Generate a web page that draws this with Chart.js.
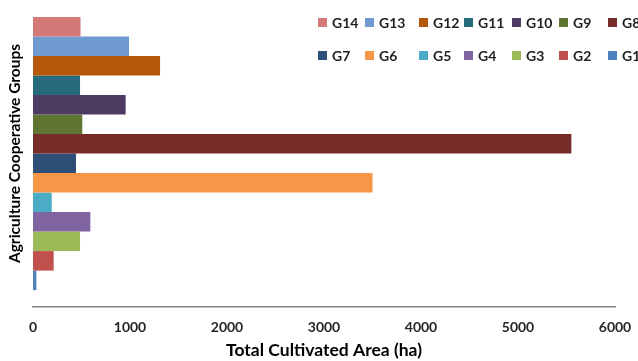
<!DOCTYPE html>
<html>
<head>
<meta charset="utf-8">
<title>Total Cultivated Area by Cooperative Group</title>
<script src="https://cdn.jsdelivr.net/npm/chart.js@4/dist/chart.umd.min.js"></script>
<style>
  html, body { margin: 0; padding: 0; background: #fff; overflow: hidden; }
  #wrap { position: relative; width: 638px; height: 361px; overflow: hidden; }
  #legend {
    position: absolute; left: 318px; top: 6px;
    display: grid;
    grid-template-columns: 47px 54px 45px 48px 47px 49px 60px;
    grid-auto-rows: 33px;
    font: bold 14px Lato, Carlito, Calibri, sans-serif;
    color: #1f1f1f;
    white-space: nowrap;
  }
  .item { display: flex; align-items: center; }
  .swatch { width: 9px; height: 9px; margin-right: 5px; flex: none; }
</style>
</head>
<body>
<div id="wrap">
  <canvas id="areaChart" width="638" height="361"></canvas>
  <div id="legend"></div>
</div>
<script>
// groups listed top to bottom, as they are stacked in the chart
const groups = ['G14', 'G13', 'G12', 'G11', 'G10', 'G9', 'G8', 'G7', 'G6', 'G5', 'G4', 'G3', 'G2', 'G1'];
const areas  = [490, 990, 1310, 485, 955, 508, 5550, 443, 3500, 193, 591, 485, 213, 35];
const colors = ['#D47878', '#6F9BD0', '#B55708', '#266B7B', '#4E3B62', '#5F7531', '#772C2A',
                '#2D4E76', '#F79646', '#4BACC6', '#8064A2', '#9BBB59', '#C0504D', '#4F81BD'];
const xTicks = [0, 1000, 2000, 3000, 4000, 5000, 6000];

Chart.defaults.font.family = 'Lato, Carlito, Calibri, sans-serif';

const datasets = groups.map((g, i) => ({
    label: g,
    data: [areas[i]],
    backgroundColor: colors[i],
    borderWidth: 0,
    barPercentage: 1,
    categoryPercentage: 0.89
}));

const chart = new Chart(document.getElementById('areaChart'), {
    type: 'bar',
    data: { labels: [''], datasets: datasets },
    options: {
        indexAxis: 'y',
        responsive: false,
        animation: false,
        devicePixelRatio: 1,
        layout: { padding: { top: 0, right: 23, bottom: 0, left: 0 } },
        plugins: {
            legend: { display: false },
            tooltip: { enabled: false }
        },
        scales: {
            x: {
                min: xTicks[0],
                max: xTicks[xTicks.length - 1],
                afterBuildTicks: (axis) => { axis.ticks = xTicks.map(v => ({ value: v })); },
                grid: { display: false, drawTicks: false },
                border: { display: true, color: '#868686', width: 1.5 },
                ticks: {
                    color: '#262626',
                    padding: 12,
                    font: { size: 14, weight: 'bold' },
                    callback: (v) => String(v)
                },
                title: {
                    display: true,
                    text: 'Total Cultivated Area (ha)',
                    color: '#000',
                    font: { size: 17.5, weight: 'bold' },
                    padding: { top: 0, bottom: 0 }
                },
                afterFit: (axis) => {
                    axis.height = 54;
                    // the 6000 label fits inside the layout padding already
                    axis.paddingLeft = 0;
                    axis.paddingRight = 0;
                }
            },
            y: {
                grid: { display: false, drawTicks: false },
                border: { display: false },
                ticks: { display: false },
                title: {
                    display: true,
                    text: 'Agriculture Cooperative Groups',
                    color: '#000',
                    font: { size: 15.5, weight: 'bold' },
                    padding: { top: 6, bottom: 0 }
                },
                afterFit: (axis) => { axis.width = 33; }
            }
        }
    }
});

// legend as a two-row grid, built from the chart's own legend items
const legendEl = document.getElementById('legend');
chart.options.plugins.legend.labels.generateLabels(chart).forEach(item => {
    const el = document.createElement('div');
    el.className = 'item';
    const sw = document.createElement('span');
    sw.className = 'swatch';
    sw.style.background = item.fillStyle;
    const txt = document.createElement('span');
    txt.textContent = item.text;
    el.appendChild(sw);
    el.appendChild(txt);
    legendEl.appendChild(el);
});
</script>
</body>
</html>
